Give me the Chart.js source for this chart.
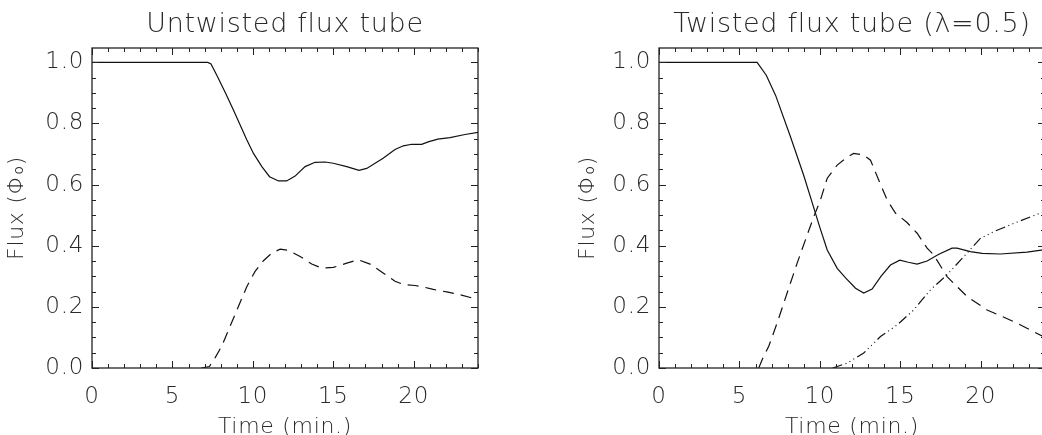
<!DOCTYPE html>
<html><head><meta charset="utf-8">
<script src="https://cdn.jsdelivr.net/npm/chart.js@4"></script>
<style>
html,body{margin:0;padding:0;background:#fff;overflow:hidden;width:1042px;height:435px}
#wrap{position:relative;width:1042px;height:435px;overflow:hidden}
canvas{position:absolute;top:0}
#c1{left:0}
#c2{left:567px}
</style></head>
<body>
<div id="wrap"><canvas id="c1" width="520" height="435"></canvas><canvas id="c2" width="520" height="435"></canvas></div>
<script>
const leftTitle = 'Untwisted flux tube';
const rightTitle = 'Twisted flux tube (\u03BB=0.5)';
const xAxisTitle = 'Time (min.)';
const yAxisTitle = 'Flux (\u03A6\u2080)';
const xTickValues = [0, 5, 10, 15, 20];
const yTickValues = [0, 0.2, 0.4, 0.6, 0.8, 1.0];

const untwistedSolidT = [0, 7.2, 7.4, 7.76, 8.3, 8.8, 9.63, 10.04, 10.56, 11.04, 11.6, 12.1, 12.63, 13.25, 13.87, 14.49, 15.0, 15.84, 16.6, 17.08, 18.1, 18.84, 19.36, 19.88, 20.5, 20.9, 21.5, 22.26, 23.19, 24.0];
const untwistedSolidY = [1.0, 1.0, 0.995, 0.958, 0.90, 0.843, 0.746, 0.702, 0.659, 0.626, 0.612, 0.612, 0.628, 0.659, 0.673, 0.674, 0.670, 0.659, 0.647, 0.653, 0.686, 0.715, 0.727, 0.732, 0.732, 0.740, 0.749, 0.754, 0.764, 0.771];

const untwistedDashT = [6.8, 7.3, 7.66, 8.07, 8.59, 9.11, 9.63, 10.14, 10.66, 11.18, 11.7, 12.2, 12.94, 13.66, 14.29, 15.0, 15.84, 16.56, 17.29, 18.1, 18.84, 19.36, 20.08, 20.6, 21.22, 22.05, 22.88, 24.0];
const untwistedDashY = [0, 0.005, 0.034, 0.072, 0.137, 0.202, 0.267, 0.316, 0.351, 0.376, 0.389, 0.385, 0.365, 0.340, 0.327, 0.329, 0.343, 0.354, 0.340, 0.311, 0.284, 0.273, 0.270, 0.265, 0.257, 0.249, 0.240, 0.224];

const twistedSolidT = [0, 6.1, 6.67, 7.25, 8.18, 9.0, 9.5, 10.0, 10.46, 11.08, 11.6, 12.22, 12.73, 13.25, 13.8, 14.39, 14.97, 15.5, 16.05, 16.67, 17.4, 18.22, 18.53, 19.36, 20.09, 21.22, 22.88, 24.0];
const twistedSolidY = [1, 1, 0.958, 0.892, 0.756, 0.630, 0.545, 0.460, 0.386, 0.326, 0.295, 0.261, 0.245, 0.258, 0.300, 0.337, 0.353, 0.346, 0.340, 0.350, 0.372, 0.392, 0.392, 0.381, 0.375, 0.373, 0.379, 0.387];

const twistedDashT = [6.2, 6.42, 6.83, 7.35, 7.97, 8.59, 9.11, 9.63, 10.04, 10.46, 11.08, 11.6, 12.1, 12.73, 13.15, 13.66, 14.19, 14.7, 15.42, 16.05, 16.67, 17.08, 17.91, 19.15, 20.4, 22.05, 24.0];
const twistedDashY = [0, 0.028, 0.072, 0.148, 0.246, 0.343, 0.42, 0.496, 0.55, 0.621, 0.664, 0.686, 0.702, 0.697, 0.680, 0.615, 0.549, 0.507, 0.476, 0.441, 0.392, 0.37, 0.299, 0.234, 0.19, 0.152, 0.10];

const twistedDotDashT = [10.8, 11.08, 11.7, 12.73, 13.77, 14.81, 15.84, 16.88, 17.91, 18.94, 19.98, 20.81, 22.05, 24.0];
const twistedDotDashY = [0, 0.005, 0.016, 0.049, 0.103, 0.141, 0.19, 0.256, 0.305, 0.364, 0.424, 0.446, 0.473, 0.513];

const FONT = "'DejaVu Sans', sans-serif";
const TEXT = '#2a2a2a';
const LINE = '#111';

function pts(t, y) { return t.map((v, i) => ({ x: v, y: y[i] })); }
function ds(t, y, dash) {
  return { data: pts(t, y), borderColor: LINE, borderWidth: 1.2, borderDash: dash, pointRadius: 0, tension: 0, fill: false };
}

const framePlugin = {
  id: 'frame',
  beforeDraw(chart) {
    chart.ctx.letterSpacing = '0.7px';
  },
  afterDatasetsDraw(chart) {
    const { ctx, chartArea: a, scales: { x, y } } = chart;
    ctx.save();
    ctx.strokeStyle = '#222';
    ctx.lineWidth = 1.3;
    ctx.strokeRect(a.left, a.top, a.right - a.left, a.bottom - a.top);
    ctx.lineWidth = 1;
    ctx.beginPath();
    for (let t = 0; t <= 24; t++) {
      const px = Math.round(x.getPixelForValue(t)) + 0.5;
      const len = t % 5 === 0 ? 7 : 4;
      ctx.moveTo(px, a.bottom); ctx.lineTo(px, a.bottom - len);
      ctx.moveTo(px, a.top); ctx.lineTo(px, a.top + len);
    }
    for (let k = 0; k <= 20; k++) {
      const py = Math.round(y.getPixelForValue(k * 0.05)) + 0.5;
      const len = k % 4 === 0 ? 7 : 4;
      ctx.moveTo(a.left, py); ctx.lineTo(a.left + len, py);
      ctx.moveTo(a.right, py); ctx.lineTo(a.right - len, py);
    }
    ctx.stroke();
    ctx.restore();
  }
};

function makeChart(id, title, datasets, yTitlePad) {
  return new Chart(document.getElementById(id), {
    type: 'line',
    data: { datasets },
    options: {
      responsive: false, animation: false, devicePixelRatio: 1,
      layout: { padding: { left: 0, right: 42, top: 0, bottom: -5 } },
      plugins: {
        legend: { display: false }, tooltip: { enabled: false },
        title: { display: true, text: title, fullSize: false, color: TEXT,
          font: { family: FONT, size: 27, weight: '200' }, padding: { top: 9, bottom: 6.6 } }
      },
      scales: {
        x: {
          type: 'linear', min: 0, max: 24,
          afterBuildTicks: s => { s.ticks = xTickValues.map(v => ({ value: v })); },
          afterFit: s => { s.height = 72; },
          grid: { display: false, drawTicks: false }, border: { display: false },
          ticks: { padding: 15, color: TEXT, font: { family: FONT, size: 23, weight: '200' }, callback: v => String(v), maxRotation: 0, autoSkip: false },
          title: { display: true, text: xAxisTitle, color: TEXT, font: { family: FONT, size: 22, weight: '200' }, padding: 0 }
        },
        y: {
          type: 'linear', min: 0, max: 1.047,
          afterBuildTicks: s => { s.ticks = yTickValues.map(v => ({ value: v })); },
          afterFit: s => { s.width = 92; },
          grid: { display: false, drawTicks: false }, border: { display: false },
          ticks: { padding: 8, color: TEXT, font: { family: FONT, size: 23, weight: '200' }, callback: v => v.toFixed(1) },
          title: { display: true, text: yAxisTitle, color: TEXT, font: { family: FONT, size: 22, weight: '200' }, padding: { top: yTitlePad, bottom: 0 } }
        }
      }
    },
    plugins: [framePlugin]
  });
}

makeChart('c1', leftTitle, [
  ds(untwistedSolidT, untwistedSolidY, []),
  ds(untwistedDashT, untwistedDashY, [11, 7])
], 4);
makeChart('c2', rightTitle, [
  ds(twistedSolidT, twistedSolidY, []),
  ds(twistedDashT, twistedDashY, [11, 7]),
  ds(twistedDotDashT, twistedDotDashY, [10, 3.5, 1, 3.5, 1, 3.5, 1, 3.5])
], 8);
</script>
</body></html>
